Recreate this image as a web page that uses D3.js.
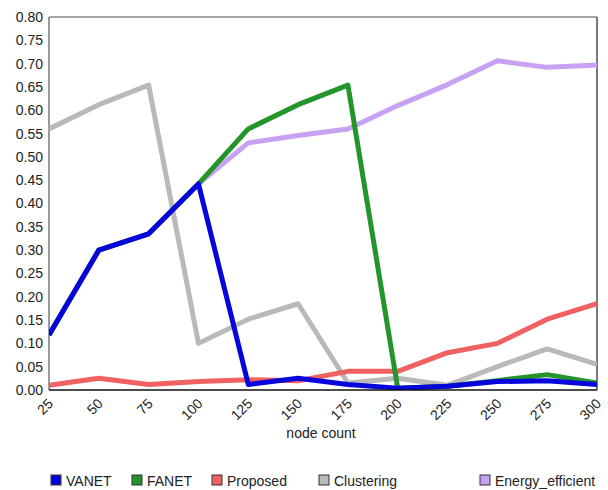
<!DOCTYPE html>
<html><head><meta charset="utf-8">
<script src="https://cdnjs.cloudflare.com/ajax/libs/d3/7.8.5/d3.min.js"></script>
<style>body{margin:0;background:#fff}svg{display:block;font-family:"Liberation Sans",Arial,sans-serif}</style>
</head><body><svg id="c" width="608" height="490"></svg>
<script>
const categories = [25,50,75,100,125,150,175,200,225,250,275,300];
const yTicks = [0,0.05,0.10,0.15,0.20,0.25,0.30,0.35,0.40,0.45,0.50,0.55,0.60,0.65,0.70,0.75,0.80];
const seriesNames = ["VANET","FANET","Proposed","Clustering","Energy_efficient"];
const seriesColors = ["#0505dc","#23952a","#f06262","#b9b9b9","#c8a2f2"];
const VANET = [0.118,0.300,0.335,0.442,0.012,0.025,0.012,0.004,0.008,0.018,0.020,0.012];
const FANET = [0.118,0.300,0.335,0.442,0.560,0.612,0.654,0.004,0.008,0.020,0.033,0.015];
const Proposed = [0.010,0.025,0.012,0.018,0.022,0.020,0.040,0.040,0.080,0.100,0.152,0.185];
const Clustering = [0.560,0.612,0.654,0.100,0.152,0.185,0.015,0.025,0.010,0.050,0.088,0.055];
const Energy_efficient = [0.118,0.300,0.335,0.442,0.530,0.546,0.560,0.610,0.655,0.706,0.692,0.697];
const seriesValues = [VANET,FANET,Proposed,Clustering,Energy_efficient];

const svg = d3.select("#c");
const L=49,R=597,T=17,B=390;
const x = d3.scalePoint().domain(categories).range([L,R]).padding(0);
const y = d3.scaleLinear().domain([0,0.8]).range([B,T]);

// y axis labels
const ya = svg.append("g").attr("transform",`translate(${L},0)`)
  .call(d3.axisLeft(y).tickValues(yTicks).tickFormat(d3.format(".2f")).tickSize(0).tickPadding(6));
ya.select(".domain").remove();
ya.selectAll("text").attr("font-size",14).attr("fill","#222").attr("font-family","Liberation Sans, Arial, sans-serif");

// x axis labels
const xa = svg.append("g").attr("transform",`translate(0,${B})`)
  .call(d3.axisBottom(x).tickSize(0).tickPadding(0));
xa.select(".domain").remove();
xa.selectAll("text").attr("font-size",14).attr("fill","#222").attr("font-family","Liberation Sans, Arial, sans-serif")
  .attr("text-anchor","end").attr("dy",null).attr("y",0)
  .attr("transform","translate(1,11) rotate(-45)").attr("dominant-baseline","central");

// frame
svg.append("line").attr("x1",L).attr("x2",R).attr("y1",T).attr("y2",T).attr("stroke","#888").attr("stroke-width",1.5);
svg.append("line").attr("x1",L).attr("x2",L).attr("y1",T).attr("y2",B).attr("stroke","#777").attr("stroke-width",1.5);
svg.append("line").attr("x1",R).attr("x2",R).attr("y1",T).attr("y2",B).attr("stroke","#222").attr("stroke-width",1.2);

const clip = svg.append("clipPath").attr("id","pc").append("rect").attr("x",L).attr("y",T-5).attr("width",R-L).attr("height",B-T+5);
const line = d3.line().x((d,i)=>x(categories[i])).y(d=>y(d));
const g = svg.append("g").attr("clip-path","url(#pc)");
for(let s=seriesNames.length-1;s>=0;s--){
  g.append("path").datum(seriesValues[s]).attr("d",line).attr("fill","none")
    .attr("stroke",seriesColors[s]).attr("stroke-width",5).attr("stroke-linejoin","round");
}
svg.append("line").attr("x1",L).attr("x2",R).attr("y1",B).attr("y2",B).attr("stroke","#111").attr("stroke-width",1.5);

svg.append("text").attr("x",321).attr("y",438).attr("text-anchor","middle").attr("font-size",14).attr("fill","#222").text("node count");

const legX = [51,132,212,319,480];
seriesNames.forEach((n,i)=>{
  svg.append("rect").attr("x",legX[i]).attr("y",475).attr("width",10).attr("height",10)
    .attr("fill",seriesColors[i]).attr("stroke","#333").attr("stroke-width",1);
  svg.append("text").attr("x",legX[i]+15).attr("y",485.5).attr("font-size",14).attr("fill","#222").text(n);
});
</script></body></html>
